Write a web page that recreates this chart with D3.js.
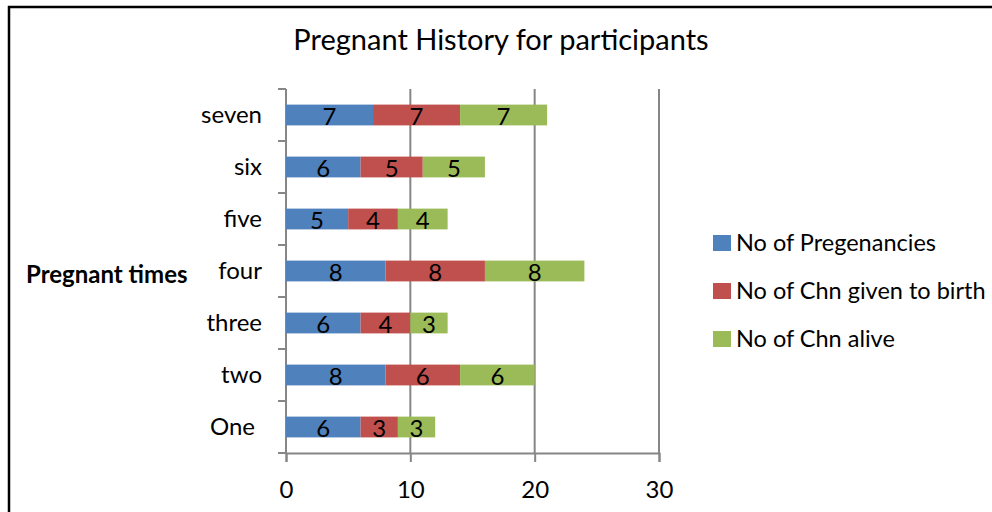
<!DOCTYPE html>
<html>
<head>
<meta charset="utf-8">
<script src="https://cdn.jsdelivr.net/npm/d3@7"></script>
<style>
  body { margin: 0; background: #fff; }
  text { font-family: Lato, "Open Sans", sans-serif; fill: #000; }
</style>
</head>
<body>
<svg width="992" height="512"></svg>
<script>
// data
const categories = ["seven", "six", "five", "four", "three", "two", "One"];
const seriesNames = ["No of Pregenancies", "No of Chn given to birth", "No of Chn alive"];
const pregnancies = [7, 6, 5, 8, 6, 8, 6];
const givenBirth = [7, 5, 4, 8, 4, 6, 3];
const alive = [7, 5, 4, 8, 3, 6, 3];
const xTicks = [0, 10, 20, 30];
const colors = ["#4f81bd", "#c0504d", "#9bbb59"];

const svg = d3.select("svg");

// outer frame
svg.append("rect")
    .attr("x", 9).attr("y", 7)
    .attr("width", 1000).attr("height", 520)
    .attr("fill", "none")
    .attr("stroke", "#000")
    .attr("stroke-width", 2.5);

// title
svg.append("text")
    .attr("x", 501).attr("y", 50)
    .attr("text-anchor", "middle")
    .style("font-size", "29px")
    .text("Pregnant History for participants");

// scales
const x = d3.scaleLinear().domain([0, 30]).range([286, 659]);
const y = d3.scaleBand().domain(categories).range([89, 453]).paddingInner(0.6).paddingOuter(0.3);

// stacked data
const rows = categories.map(function(c, i) {
    return { cat: c, a: pregnancies[i], b: givenBirth[i], c: alive[i] };
});
const stack = d3.stack().keys(["a", "b", "c"]);
const layers = stack(rows);

// gridlines
svg.append("g")
    .selectAll("line")
    .data(xTicks.slice(1))
    .enter()
    .append("line")
    .attr("x1", d => x(d)).attr("x2", d => x(d))
    .attr("y1", 89).attr("y2", 453)
    .attr("stroke", "#868686")
    .attr("stroke-width", 2);

// x axis
const xAxis = svg.append("g")
    .attr("transform", "translate(0,453)")
    .call(d3.axisBottom(x).tickValues(xTicks).tickSize(9).tickPadding(19));
xAxis.select(".domain").attr("stroke", "#868686").attr("stroke-width", 2);
xAxis.selectAll(".tick line").attr("stroke", "#868686").attr("stroke-width", 2);
xAxis.selectAll(".tick text").style("font-size", "24px").style("font-family", "Lato, sans-serif");

// y axis with ticks at category boundaries
const yAxisG = svg.append("g");
yAxisG.append("line")
    .attr("x1", 286).attr("x2", 286)
    .attr("y1", 89).attr("y2", 453)
    .attr("stroke", "#868686").attr("stroke-width", 2);
const step = y.step();
yAxisG.selectAll(".bt")
    .data(d3.range(categories.length + 1))
    .enter()
    .append("line")
    .attr("x1", 278).attr("x2", 286)
    .attr("y1", i => 89 + i * step).attr("y2", i => 89 + i * step)
    .attr("stroke", "#868686").attr("stroke-width", 2);
yAxisG.selectAll(".cl")
    .data(categories)
    .enter()
    .append("text")
    .attr("x", d => d === "One" ? 255 : 262)
    .attr("y", d => y(d) + y.bandwidth() / 2)
    .attr("dy", "0.35em")
    .attr("text-anchor", "end")
    .style("font-size", "24px")
    .text(d => d);

// y axis title
svg.append("text")
    .attr("x", 26).attr("y", 283)
    .style("font-size", "24px")
    .style("font-weight", "bold")
    .text("Pregnant times");

// bars
const g = svg.append("g")
    .selectAll("g")
    .data(layers)
    .enter()
    .append("g")
    .attr("fill", (d, i) => colors[i]);

g.selectAll("rect")
    .data(d => d)
    .enter()
    .append("rect")
    .attr("x", d => x(d[0]))
    .attr("y", d => y(d.data.cat))
    .attr("width", d => x(d[1]) - x(d[0]))
    .attr("height", y.bandwidth());

g.selectAll("text")
    .data(d => d)
    .enter()
    .append("text")
    .attr("x", d => (x(d[0]) + x(d[1])) / 2)
    .attr("y", d => y(d.data.cat) + y.bandwidth() / 2)
    .attr("dy", "0.42em")
    .attr("text-anchor", "middle")
    .style("font-size", "24px")
    .style("fill", "#000")
    .text(d => d[1] - d[0]);

// legend
const legend = svg.append("g")
    .selectAll("g")
    .data(seriesNames)
    .enter()
    .append("g")
    .attr("transform", (d, i) => "translate(713," + (243 + i * 48) + ")");
legend.append("rect")
    .attr("x", 0).attr("y", -8)
    .attr("width", 18).attr("height", 16)
    .attr("fill", (d, i) => colors[i]);
legend.append("text")
    .attr("x", 23).attr("y", 0)
    .attr("dy", "0.35em")
    .style("font-size", "23.5px")
    .text(d => d);
</script>
</body>
</html>
